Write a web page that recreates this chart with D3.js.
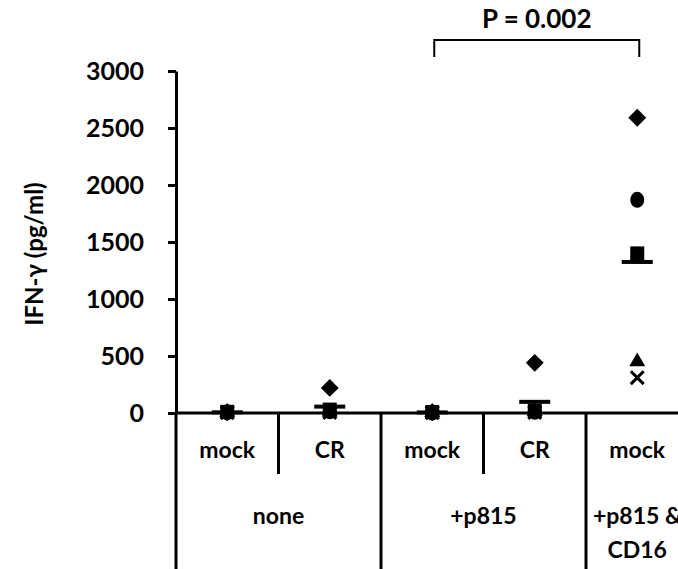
<!DOCTYPE html>
<html>
<head>
<meta charset="utf-8">
<script src="https://cdn.jsdelivr.net/npm/d3@7"></script>
<style>
  body { margin: 0; background: #fff; }
  svg { display: block; font-family: Lato, "Open Sans", sans-serif; font-weight: bold; }
</style>
</head>
<body>
<svg width="678" height="569"></svg>
<script>
// categories along the x axis
const conditions = ["mock", "CR", "mock", "CR", "mock"];
const groups = [
  { name: ["none"], span: [0, 1] },
  { name: ["+p815"], span: [2, 3] },
  { name: ["+p815 &", "CD16"], span: [4, 4] },
];

// one array per donor (IFN-γ pg/ml), per category
const donorDiamond = [5, 220, 5, 440, 2590];
const donorSquare = [10, 30, 8, 20, 1400];
const donorTriangle = [8, 10, 6, 15, 450];
const donorCross = [3, 5, 3, 5, 310];
const donorCircle = [6, 15, 4, 10, 1870];
const means = [6, 56, 5, 98, 1325];

const yTicks = [0, 500, 1000, 1500, 2000, 2500, 3000];
const pLabel = "P = 0.002";

const svg = d3.select("svg");

const x = d3.scaleBand()
  .domain(d3.range(conditions.length))
  .range([176, 688.5])
  .padding(0);

const y = d3.scaleLinear().domain([0, 3000]).range([413, 71]);

// y axis
const yAxis = svg.append("g")
  .attr("transform", "translate(176,0)")
  .call(d3.axisLeft(y).tickValues(yTicks).tickFormat(d3.format("d"))
    .tickSize(8).tickPadding(24).tickSizeOuter(0));
yAxis.select(".domain").attr("stroke", "#000").attr("stroke-width", 3);
yAxis.selectAll(".tick line").attr("stroke-width", 3);
yAxis.selectAll(".tick text")
  .attr("font-size", 25)
  .attr("dy", "0.34em")
  .attr("font-family", "Lato, 'Open Sans', sans-serif")
  .attr("font-weight", "bold")
  .attr("fill", "#000");

// extend y axis line down to the bottom of the label table
svg.append("line")
  .attr("x1", 176).attr("x2", 176)
  .attr("y1", 413).attr("y2", 569)
  .attr("stroke", "#000").attr("stroke-width", 3);

// x axis baseline
svg.append("line")
  .attr("x1", 176).attr("x2", 690)
  .attr("y1", y(0)).attr("y2", y(0))
  .attr("stroke", "#000").attr("stroke-width", 3);

// category separators
conditions.forEach((c, i) => {
  if (i === 0) return;
  const isGroupEdge = groups.some((g) => g.span[0] === i);
  svg.append("line")
    .attr("x1", x(i)).attr("x2", x(i))
    .attr("y1", y(0)).attr("y2", isGroupEdge ? 569 : 474)
    .attr("stroke", "#000").attr("stroke-width", 3);
});

// condition labels
svg.append("g").selectAll("text")
  .data(conditions)
  .join("text")
  .attr("x", (d, i) => x(i) + x.bandwidth() / 2)
  .attr("y", 458)
  .attr("text-anchor", "middle")
  .attr("font-size", 23)
  .text((d) => d);

// group labels
groups.forEach((g) => {
  const cx = (x(g.span[0]) + x(g.span[1]) + x.bandwidth()) / 2;
  g.name.forEach((line, k) => {
    svg.append("text")
      .attr("x", cx)
      .attr("y", 524 + k * 34)
      .attr("text-anchor", "middle")
      .attr("font-size", 23)
      .text(line);
  });
});

// y axis title
svg.append("text")
  .attr("transform", `translate(43,${(71 + 413) / 2 + 12}) rotate(-90)`)
  .attr("text-anchor", "middle")
  .attr("font-size", 24)
  .text("IFN-γ (pg/ml)");

// markers
const cx = (i) => x(i) + x.bandwidth() / 2;
const marks = svg.append("g");

marks.selectAll(".diamond")
  .data(donorDiamond)
  .join("path")
  .attr("d", d3.symbol(d3.symbolSquare, 160))
  .attr("transform", (d, i) => `translate(${cx(i)},${y(d)}) rotate(45)`)
  .attr("fill", "#000");

marks.selectAll(".square")
  .data(donorSquare)
  .join("rect")
  .attr("x", (d, i) => cx(i) - 7)
  .attr("y", (d) => y(d) - 7)
  .attr("width", 14).attr("height", 14)
  .attr("fill", "#000");

marks.selectAll(".triangle")
  .data(donorTriangle)
  .join("path")
  .attr("d", d3.symbol(d3.symbolTriangle, 110))
  .attr("transform", (d, i) => `translate(${cx(i)},${y(d)})`)
  .attr("fill", "#000");

marks.selectAll(".cross")
  .data(donorCross)
  .join("path")
  .attr("d", d3.symbol(d3.symbolTimes, 110))
  .attr("transform", (d, i) => `translate(${cx(i)},${y(d)})`)
  .attr("fill", "none")
  .attr("stroke", "#000")
  .attr("stroke-width", 3);

marks.selectAll(".circle")
  .data(donorCircle)
  .join("ellipse")
  .attr("cx", (d, i) => cx(i))
  .attr("cy", (d) => y(d))
  .attr("rx", 7).attr("ry", 8)
  .attr("fill", "#000");

// mean bars
marks.selectAll(".mean")
  .data(means)
  .join("rect")
  .attr("x", (d, i) => cx(i) - 15.5)
  .attr("y", (d) => y(d) - 2)
  .attr("width", 31).attr("height", 4)
  .attr("fill", "#000");

// significance bracket between category 2 and 4
const b0 = cx(2) + 2, b1 = cx(4) + 2;
svg.append("path")
  .attr("d", `M${b0},57 V40 H${b1} V57`)
  .attr("fill", "none")
  .attr("stroke", "#000")
  .attr("stroke-width", 2);
svg.append("text")
  .attr("x", (b0 + b1) / 2)
  .attr("y", 28)
  .attr("text-anchor", "middle")
  .attr("font-size", 26)
  .text(pLabel);
</script>
</body>
</html>
